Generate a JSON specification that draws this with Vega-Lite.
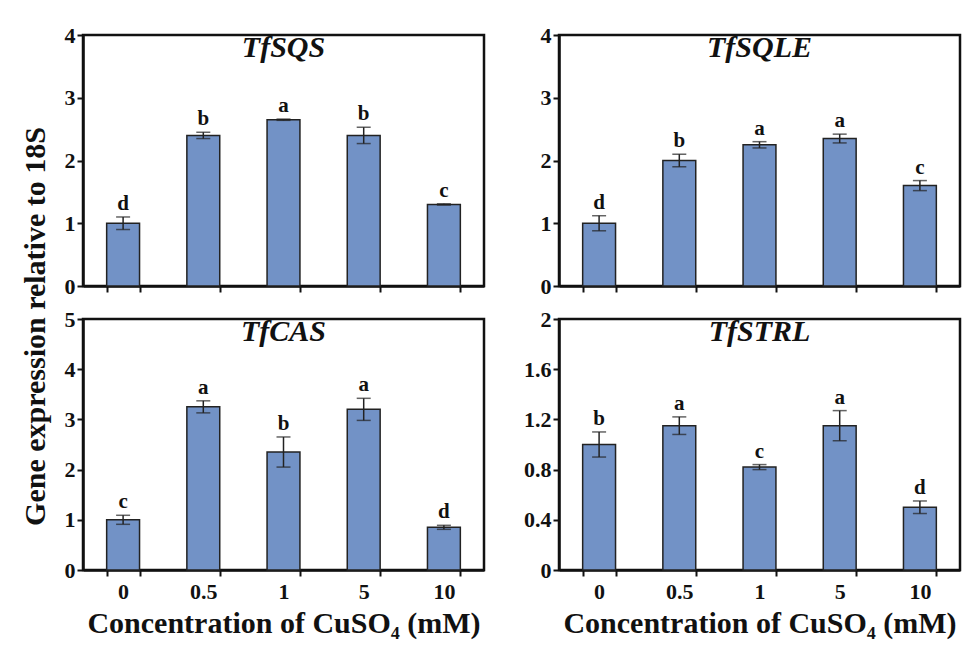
{
  "$schema": "https://vega.github.io/schema/vega-lite/v6.json",
  "padding": {"left": 18, "top": 22, "right": 2, "bottom": 5},
  "background": "white",
  "datasets": {
    "expr": [
      {"gene": "TfSQS", "conc": "0", "mean": 1.0, "lo": 0.9, "hi": 1.1, "letter": "d"},
      {"gene": "TfSQS", "conc": "0.5", "mean": 2.4, "lo": 2.35, "hi": 2.45, "letter": "b"},
      {"gene": "TfSQS", "conc": "1", "mean": 2.65, "lo": 2.64, "hi": 2.66, "letter": "a"},
      {"gene": "TfSQS", "conc": "5", "mean": 2.4, "lo": 2.27, "hi": 2.53, "letter": "b"},
      {"gene": "TfSQS", "conc": "10", "mean": 1.3, "lo": 1.29, "hi": 1.31, "letter": "c"},
      {"gene": "TfSQLE", "conc": "0", "mean": 1.0, "lo": 0.88, "hi": 1.12, "letter": "d"},
      {"gene": "TfSQLE", "conc": "0.5", "mean": 2.0, "lo": 1.9, "hi": 2.1, "letter": "b"},
      {"gene": "TfSQLE", "conc": "1", "mean": 2.25, "lo": 2.2, "hi": 2.3, "letter": "a"},
      {"gene": "TfSQLE", "conc": "5", "mean": 2.35, "lo": 2.28, "hi": 2.42, "letter": "a"},
      {"gene": "TfSQLE", "conc": "10", "mean": 1.6, "lo": 1.52, "hi": 1.68, "letter": "c"},
      {"gene": "TfCAS", "conc": "0", "mean": 1.0, "lo": 0.91, "hi": 1.09, "letter": "c"},
      {"gene": "TfCAS", "conc": "0.5", "mean": 3.25, "lo": 3.13, "hi": 3.37, "letter": "a"},
      {"gene": "TfCAS", "conc": "1", "mean": 2.35, "lo": 2.05, "hi": 2.65, "letter": "b"},
      {"gene": "TfCAS", "conc": "5", "mean": 3.2, "lo": 2.98, "hi": 3.42, "letter": "a"},
      {"gene": "TfCAS", "conc": "10", "mean": 0.85, "lo": 0.81, "hi": 0.89, "letter": "d"},
      {"gene": "TfSTRL", "conc": "0", "mean": 1.0, "lo": 0.9, "hi": 1.1, "letter": "b"},
      {"gene": "TfSTRL", "conc": "0.5", "mean": 1.15, "lo": 1.08, "hi": 1.22, "letter": "a"},
      {"gene": "TfSTRL", "conc": "1", "mean": 0.82, "lo": 0.8, "hi": 0.84, "letter": "c"},
      {"gene": "TfSTRL", "conc": "5", "mean": 1.15, "lo": 1.03, "hi": 1.27, "letter": "a"},
      {"gene": "TfSTRL", "conc": "10", "mean": 0.5, "lo": 0.45, "hi": 0.55, "letter": "d"}
    ]
  },
  "config": {
    "font": "Liberation Serif",
    "view": {"stroke": "#111", "strokeWidth": 2.5},
    "axis": {
      "labelFont": "Liberation Serif",
      "labelFontWeight": "bold",
      "labelFontSize": 22,
      "labelColor": "#111",
      "titleFont": "Liberation Serif",
      "titleFontWeight": "bold",
      "titleFontSize": 30,
      "titleColor": "#111",
      "domainColor": "#111",
      "domainWidth": 2.5,
      "tickColor": "#111",
      "tickWidth": 2,
      "tickSize": 6,
      "grid": false
    },
    "title": {
      "font": "Liberation Serif",
      "fontSize": 30,
      "fontWeight": "bold",
      "fontStyle": "italic",
      "color": "#111",
      "anchor": "middle",
      "offset": -39
    }
  },
  "columns": 2,
  "bounds": "flush",
  "spacing": {"row": 33, "column": 75},
  "concat": [
    {
      "width": 401, "height": 251,
      "title": {"text": "TfSQS"},
      "data": {"name": "expr"},
      "transform": [{"filter": "datum.gene === 'TfSQS'"}],
      "encoding": {
        "x": {"field": "conc", "type": "ordinal", "sort": ["0", "0.5", "1", "5", "10"],
          "scale": {"paddingInner": 0.59, "paddingOuter": 0.295},
          "axis": {"title": null, "labels": false, "tickBand": "extent", "labelAngle": 0}}
      },
      "layer": [
        {"mark": {"type": "bar", "fill": "#7292C6", "stroke": "#222", "strokeWidth": 1.5},
          "encoding": {"y": {"field": "mean", "type": "quantitative", "scale": {"domain": [0, 4]},
            "axis": {"title": "Gene expression relative to 18S", "values": [0, 1, 2, 3, 4], "format": "~g", "titleX": -48, "titleY": 291, "titleAngle": 270, "titleAlign": "center", "titleBaseline": "middle"}}}},
        {"mark": {"type": "rule", "color": "#222", "strokeWidth": 1.5},
          "encoding": {"y": {"field": "lo", "type": "quantitative", "axis": {"title": "Gene expression relative to 18S"}}, "y2": {"field": "hi"}}},
        {"mark": {"type": "tick", "color": "#222", "size": 14, "thickness": 1.5},
          "encoding": {"y": {"field": "lo", "type": "quantitative", "axis": {"title": "Gene expression relative to 18S"}}}},
        {"mark": {"type": "tick", "color": "#222", "size": 14, "thickness": 1.5},
          "encoding": {"y": {"field": "hi", "type": "quantitative", "axis": {"title": "Gene expression relative to 18S"}}}},
        {"mark": {"type": "text", "baseline": "bottom", "dy": -3, "font": "Liberation Serif", "fontWeight": "bold", "fontSize": 21, "color": "#111"},
          "encoding": {"y": {"field": "hi", "type": "quantitative", "axis": {"title": "Gene expression relative to 18S"}}, "text": {"field": "letter"}}}
      ]
    },
    {
      "width": 401, "height": 251,
      "title": {"text": "TfSQLE"},
      "data": {"name": "expr"},
      "transform": [{"filter": "datum.gene === 'TfSQLE'"}],
      "encoding": {
        "x": {"field": "conc", "type": "ordinal", "sort": ["0", "0.5", "1", "5", "10"],
          "scale": {"paddingInner": 0.59, "paddingOuter": 0.295},
          "axis": {"title": null, "labels": false, "tickBand": "extent", "labelAngle": 0}}
      },
      "layer": [
        {"mark": {"type": "bar", "fill": "#7292C6", "stroke": "#222", "strokeWidth": 1.5},
          "encoding": {"y": {"field": "mean", "type": "quantitative", "scale": {"domain": [0, 4]},
            "axis": {"title": null, "values": [0, 1, 2, 3, 4], "format": "~g"}}}},
        {"mark": {"type": "rule", "color": "#222", "strokeWidth": 1.5},
          "encoding": {"y": {"field": "lo", "type": "quantitative", "axis": {"title": null}}, "y2": {"field": "hi"}}},
        {"mark": {"type": "tick", "color": "#222", "size": 14, "thickness": 1.5},
          "encoding": {"y": {"field": "lo", "type": "quantitative", "axis": {"title": null}}}},
        {"mark": {"type": "tick", "color": "#222", "size": 14, "thickness": 1.5},
          "encoding": {"y": {"field": "hi", "type": "quantitative", "axis": {"title": null}}}},
        {"mark": {"type": "text", "baseline": "bottom", "dy": -3, "font": "Liberation Serif", "fontWeight": "bold", "fontSize": 21, "color": "#111"},
          "encoding": {"y": {"field": "hi", "type": "quantitative", "axis": {"title": null}}, "text": {"field": "letter"}}}
      ]
    },
    {
      "width": 401, "height": 251,
      "title": {"text": "TfCAS"},
      "data": {"name": "expr"},
      "transform": [{"filter": "datum.gene === 'TfCAS'"}],
      "encoding": {
        "x": {"field": "conc", "type": "ordinal", "sort": ["0", "0.5", "1", "5", "10"],
          "scale": {"paddingInner": 0.59, "paddingOuter": 0.295},
          "axis": {"title": "Concentration of CuSO₄ (mM)", "tickBand": "extent", "labelAngle": 0, "labelPadding": 5, "titlePadding": 6}}
      },
      "layer": [
        {"mark": {"type": "bar", "fill": "#7292C6", "stroke": "#222", "strokeWidth": 1.5},
          "encoding": {"y": {"field": "mean", "type": "quantitative", "scale": {"domain": [0, 5]},
            "axis": {"title": null, "values": [0, 1, 2, 3, 4, 5], "format": "~g"}}}},
        {"mark": {"type": "rule", "color": "#222", "strokeWidth": 1.5},
          "encoding": {"y": {"field": "lo", "type": "quantitative", "axis": {"title": null}}, "y2": {"field": "hi"}}},
        {"mark": {"type": "tick", "color": "#222", "size": 14, "thickness": 1.5},
          "encoding": {"y": {"field": "lo", "type": "quantitative", "axis": {"title": null}}}},
        {"mark": {"type": "tick", "color": "#222", "size": 14, "thickness": 1.5},
          "encoding": {"y": {"field": "hi", "type": "quantitative", "axis": {"title": null}}}},
        {"mark": {"type": "text", "baseline": "bottom", "dy": -3, "font": "Liberation Serif", "fontWeight": "bold", "fontSize": 21, "color": "#111"},
          "encoding": {"y": {"field": "hi", "type": "quantitative", "axis": {"title": null}}, "text": {"field": "letter"}}}
      ]
    },
    {
      "width": 401, "height": 251,
      "title": {"text": "TfSTRL"},
      "data": {"name": "expr"},
      "transform": [{"filter": "datum.gene === 'TfSTRL'"}],
      "encoding": {
        "x": {"field": "conc", "type": "ordinal", "sort": ["0", "0.5", "1", "5", "10"],
          "scale": {"paddingInner": 0.59, "paddingOuter": 0.295},
          "axis": {"title": "Concentration of CuSO₄ (mM)", "tickBand": "extent", "labelAngle": 0, "labelPadding": 5, "titlePadding": 6}}
      },
      "layer": [
        {"mark": {"type": "bar", "fill": "#7292C6", "stroke": "#222", "strokeWidth": 1.5},
          "encoding": {"y": {"field": "mean", "type": "quantitative", "scale": {"domain": [0, 2]},
            "axis": {"title": null, "values": [0, 0.4, 0.8, 1.2, 1.6, 2], "format": "~g"}}}},
        {"mark": {"type": "rule", "color": "#222", "strokeWidth": 1.5},
          "encoding": {"y": {"field": "lo", "type": "quantitative", "axis": {"title": null}}, "y2": {"field": "hi"}}},
        {"mark": {"type": "tick", "color": "#222", "size": 14, "thickness": 1.5},
          "encoding": {"y": {"field": "lo", "type": "quantitative", "axis": {"title": null}}}},
        {"mark": {"type": "tick", "color": "#222", "size": 14, "thickness": 1.5},
          "encoding": {"y": {"field": "hi", "type": "quantitative", "axis": {"title": null}}}},
        {"mark": {"type": "text", "baseline": "bottom", "dy": -3, "font": "Liberation Serif", "fontWeight": "bold", "fontSize": 21, "color": "#111"},
          "encoding": {"y": {"field": "hi", "type": "quantitative", "axis": {"title": null}}, "text": {"field": "letter"}}}
      ]
    }
  ]
}
